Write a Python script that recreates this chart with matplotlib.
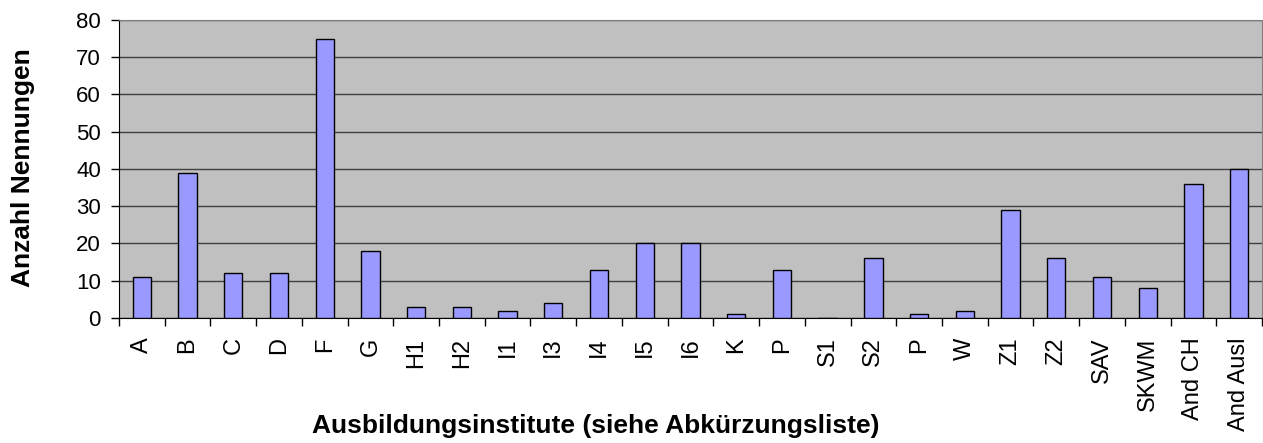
import numpy as np
import matplotlib.pyplot as plt

plt.rcParams['font.family'] = ['Liberation Sans', 'DejaVu Sans']

institute = ['A', 'B', 'C', 'D', 'F', 'G', 'H1', 'H2', 'I1', 'I3', 'I4', 'I5', 'I6',
             'K', 'P', 'S1', 'S2', 'P', 'W', 'Z1', 'Z2', 'SAV', 'SKWM', 'And CH', 'And Ausl']
nennungen = [11, 39, 12, 12, 75, 18, 3, 3, 2, 4, 13, 20, 20,
             1, 13, 0, 16, 1, 2, 29, 16, 11, 8, 36, 40]

fig = plt.figure(figsize=(12.63, 4.43), dpi=100)
ax = fig.add_axes([0.0942, 0.2822, 0.905, 0.6727])

x = np.arange(len(institute))
ax.set_facecolor('#C0C0C0')
ax.bar(x, nennungen, width=0.40, color='#9999FF', edgecolor='black', linewidth=1, zorder=3)

ax.set_ylim(0, 80)
ax.set_yticks(range(0, 81, 10))
ax.yaxis.grid(True, color='#404040', linewidth=1, zorder=0)
ax.set_xlim(-0.5, len(institute) - 0.5)

# labels centred under bars, tick marks between categories
ax.set_xticks(x)
ax.set_xticklabels(institute, rotation=90, fontsize=17)
ax.tick_params(axis='x', which='major', length=0, pad=14)
ax.set_xticks(np.arange(-0.5, len(institute), 1), minor=True)
ax.tick_params(axis='x', which='minor', length=6, width=1, direction='out')
ax.tick_params(axis='y', labelsize=16, length=6, width=1, direction='out', pad=7)

for side in ['top', 'right']:
    ax.spines[side].set_color('#808080')
ax.spines['left'].set_color('black')
ax.spines['bottom'].set_color('black')

fig.text(0.018, 0.622, 'Anzahl Nennungen', fontsize=19, fontweight='bold',
         rotation=90, ha='center', va='center')
fig.text(0.472, 0.038, 'Ausbildungsinstitute (siehe Abkürzungsliste)',
         fontsize=19, fontweight='bold', ha='center', va='center')

fig.savefig('out.png', dpi=100)
